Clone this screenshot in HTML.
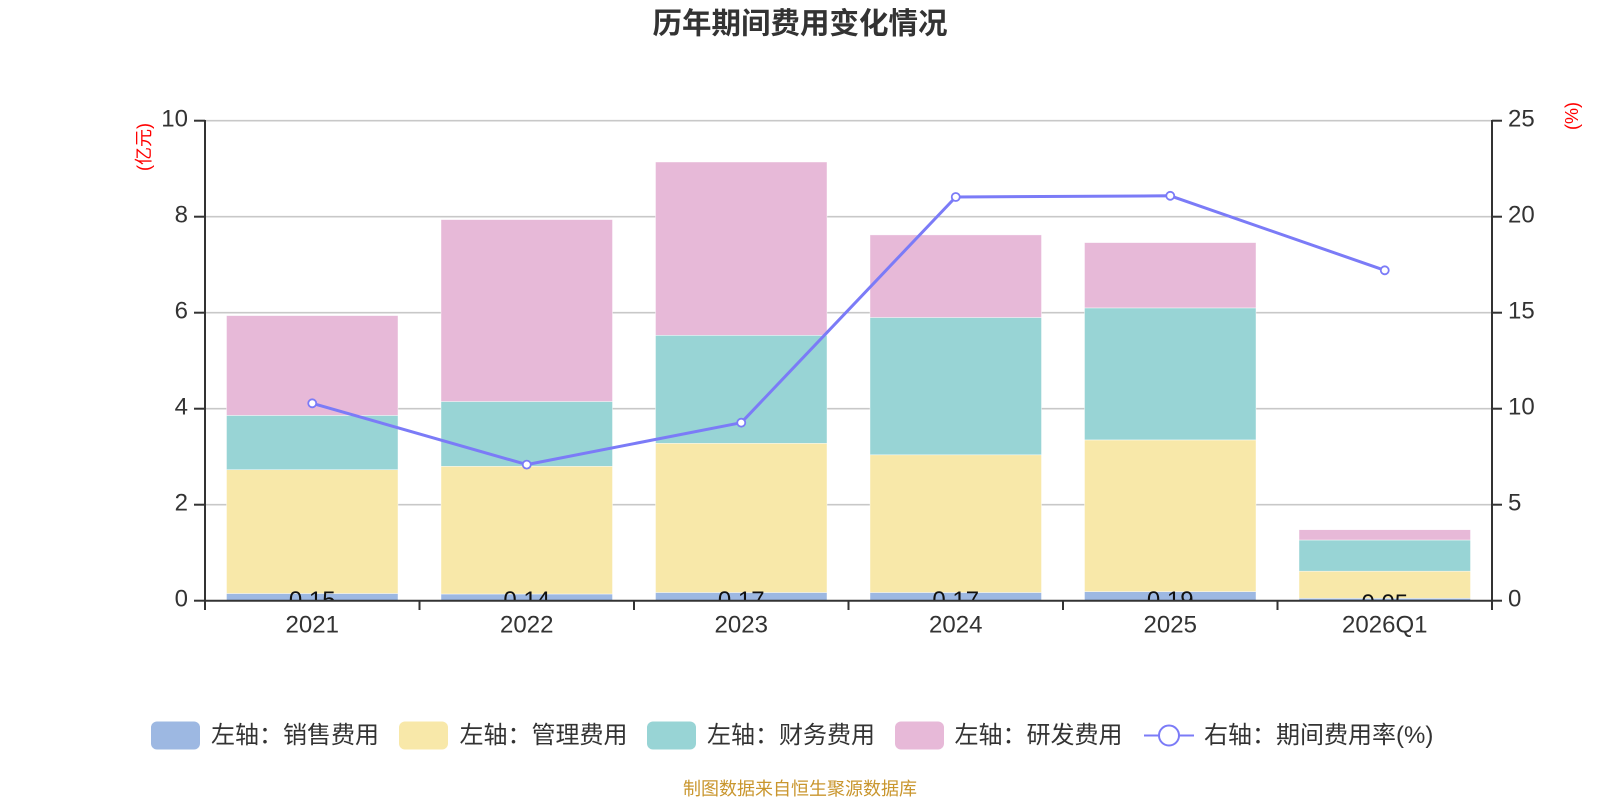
<!DOCTYPE html>
<html>
<head>
<meta charset="utf-8">
<style>
  html,body{margin:0;padding:0;background:#fff;}
  svg{display:block;}
  text{font-family:"Liberation Sans","Noto Sans CJK SC",sans-serif;}
</style>
</head>
<body>
<svg width="1600" height="800" viewBox="0 0 1600 800" xmlns="http://www.w3.org/2000/svg">
  <defs>
    <clipPath id="plot"><rect x="205" y="100" width="1287" height="500.7"/></clipPath>
  </defs>
  <rect width="1600" height="800" fill="#fff"/>

  <!-- Title -->
  <text x="800" y="24" font-size="29.5" font-weight="bold" fill="#333" text-anchor="middle" dominant-baseline="central" font-family="'Noto Sans CJK SC',sans-serif">历年期间费用变化情况</text>

  <!-- Grid lines -->
  <g stroke="#c8c8c8" stroke-width="1.6">
    <line x1="205" y1="120.7" x2="1492" y2="120.7"/>
    <line x1="205" y1="216.7" x2="1492" y2="216.7"/>
    <line x1="205" y1="312.7" x2="1492" y2="312.7"/>
    <line x1="205" y1="408.7" x2="1492" y2="408.7"/>
    <line x1="205" y1="504.7" x2="1492" y2="504.7"/>
  </g>

  <!-- Bars -->
  <g stroke="#ffffff" stroke-width="0.6" stroke-opacity="0.7">
    <!-- 2021 -->
    <rect x="226.5" y="593.5" width="171.5" height="7.2" fill="#9db8e2"/>
    <rect x="226.5" y="469.7" width="171.5" height="123.8" fill="#f8e8a9"/>
    <rect x="226.5" y="415.4" width="171.5" height="54.3" fill="#98d4d5"/>
    <rect x="226.5" y="315.6" width="171.5" height="99.8" fill="#e7b9d8"/>
    <!-- 2022 -->
    <rect x="441" y="594.0" width="171.5" height="6.7" fill="#9db8e2"/>
    <rect x="441" y="466.3" width="171.5" height="127.7" fill="#f8e8a9"/>
    <rect x="441" y="401.5" width="171.5" height="64.8" fill="#98d4d5"/>
    <rect x="441" y="219.6" width="171.5" height="181.9" fill="#e7b9d8"/>
    <!-- 2023 -->
    <rect x="655.5" y="592.5" width="171.5" height="8.2" fill="#9db8e2"/>
    <rect x="655.5" y="443.3" width="171.5" height="149.2" fill="#f8e8a9"/>
    <rect x="655.5" y="335.3" width="171.5" height="108" fill="#98d4d5"/>
    <rect x="655.5" y="162.0" width="171.5" height="173.3" fill="#e7b9d8"/>
    <!-- 2024 -->
    <rect x="870" y="592.5" width="171.5" height="8.2" fill="#9db8e2"/>
    <rect x="870" y="454.8" width="171.5" height="137.7" fill="#f8e8a9"/>
    <rect x="870" y="317.5" width="171.5" height="137.3" fill="#98d4d5"/>
    <rect x="870" y="234.9" width="171.5" height="82.6" fill="#e7b9d8"/>
    <!-- 2025 -->
    <rect x="1084.5" y="591.6" width="171.5" height="9.1" fill="#9db8e2"/>
    <rect x="1084.5" y="439.9" width="171.5" height="151.7" fill="#f8e8a9"/>
    <rect x="1084.5" y="307.9" width="171.5" height="132" fill="#98d4d5"/>
    <rect x="1084.5" y="242.6" width="171.5" height="65.3" fill="#e7b9d8"/>
    <!-- 2026Q1 -->
    <rect x="1299" y="598.3" width="171.5" height="2.4" fill="#9db8e2"/>
    <rect x="1299" y="571.2" width="171.5" height="27.1" fill="#f8e8a9"/>
    <rect x="1299" y="540.0" width="171.5" height="31.2" fill="#98d4d5"/>
    <rect x="1299" y="529.7" width="171.5" height="10.3" fill="#e7b9d8"/>
  </g>

  <!-- Value labels (clipped by plot area) -->
  <g clip-path="url(#plot)" font-size="24" fill="#111" text-anchor="middle">
    <text x="312.25" y="608">0.15</text>
    <text x="526.75" y="608">0.14</text>
    <text x="741.25" y="608">0.17</text>
    <text x="955.75" y="608">0.17</text>
    <text x="1170.25" y="608">0.19</text>
    <text x="1384.75" y="611">0.05</text>
  </g>

  <!-- Axes -->
  <g stroke="#333" stroke-width="2">
    <line x1="205" y1="120" x2="205" y2="601.5"/>
    <line x1="1492" y1="120" x2="1492" y2="601.5"/>
    <line x1="204" y1="600.7" x2="1493" y2="600.7"/>
    <!-- left ticks -->
    <line x1="194" y1="120.7" x2="205" y2="120.7"/>
    <line x1="194" y1="216.7" x2="205" y2="216.7"/>
    <line x1="194" y1="312.7" x2="205" y2="312.7"/>
    <line x1="194" y1="408.7" x2="205" y2="408.7"/>
    <line x1="194" y1="504.7" x2="205" y2="504.7"/>
    <line x1="194" y1="600.7" x2="205" y2="600.7"/>
    <!-- right ticks -->
    <line x1="1492" y1="120.7" x2="1502" y2="120.7"/>
    <line x1="1492" y1="216.7" x2="1502" y2="216.7"/>
    <line x1="1492" y1="312.7" x2="1502" y2="312.7"/>
    <line x1="1492" y1="408.7" x2="1502" y2="408.7"/>
    <line x1="1492" y1="504.7" x2="1502" y2="504.7"/>
    <line x1="1492" y1="600.7" x2="1502" y2="600.7"/>
    <!-- x ticks -->
    <line x1="205" y1="600.7" x2="205" y2="610"/>
    <line x1="419.5" y1="600.7" x2="419.5" y2="610"/>
    <line x1="634" y1="600.7" x2="634" y2="610"/>
    <line x1="848.5" y1="600.7" x2="848.5" y2="610"/>
    <line x1="1063" y1="600.7" x2="1063" y2="610"/>
    <line x1="1277.5" y1="600.7" x2="1277.5" y2="610"/>
    <line x1="1492" y1="600.7" x2="1492" y2="610"/>
  </g>

  <!-- Left axis labels -->
  <g font-size="24" fill="#333" text-anchor="end" dominant-baseline="central">
    <text x="188" y="119">10</text>
    <text x="188" y="215">8</text>
    <text x="188" y="311">6</text>
    <text x="188" y="407">4</text>
    <text x="188" y="503">2</text>
    <text x="188" y="599">0</text>
  </g>
  <!-- Right axis labels -->
  <g font-size="24" fill="#333" text-anchor="start" dominant-baseline="central">
    <text x="1508" y="119">25</text>
    <text x="1508" y="215">20</text>
    <text x="1508" y="311">15</text>
    <text x="1508" y="407">10</text>
    <text x="1508" y="503">5</text>
    <text x="1508" y="599">0</text>
  </g>

  <!-- Axis names -->
  <text transform="translate(144,147) rotate(-90)" font-size="18" fill="#ff0000" text-anchor="middle" dominant-baseline="central">(亿元)</text>
  <text transform="translate(1572,116) rotate(-90)" font-size="18" fill="#ff0000" text-anchor="middle" dominant-baseline="central">(%)</text>

  <!-- X labels -->
  <g font-size="24" fill="#333" text-anchor="middle" dominant-baseline="central">
    <text x="312.25" y="625">2021</text>
    <text x="526.75" y="625">2022</text>
    <text x="741.25" y="625">2023</text>
    <text x="955.75" y="625">2024</text>
    <text x="1170.25" y="625">2025</text>
    <text x="1384.75" y="625">2026Q1</text>
  </g>

  <!-- Line series -->
  <polyline points="312.25,403.3 526.75,464.6 741.25,422.7 955.75,197 1170.25,195.8 1384.75,270.3" fill="none" stroke="#7b7bf7" stroke-width="3" stroke-linejoin="round"/>
  <g fill="#fff" stroke="#7b7bf7" stroke-width="1.8">
    <circle cx="312.25" cy="403.3" r="4"/>
    <circle cx="526.75" cy="464.6" r="4"/>
    <circle cx="741.25" cy="422.7" r="4"/>
    <circle cx="955.75" cy="197" r="4"/>
    <circle cx="1170.25" cy="195.8" r="4"/>
    <circle cx="1384.75" cy="270.3" r="4"/>
  </g>

  <!-- Legend -->
  <g font-size="24" fill="#333" dominant-baseline="central">
    <rect x="151" y="721.5" width="49" height="28" rx="6" fill="#9db8e2"/>
    <text x="211" y="735.5">左轴：销售费用</text>
    <rect x="399" y="721.5" width="49" height="28" rx="6" fill="#f8e8a9"/>
    <text x="459.5" y="735.5">左轴：管理费用</text>
    <rect x="647" y="721.5" width="49" height="28" rx="6" fill="#98d4d5"/>
    <text x="707" y="735.5">左轴：财务费用</text>
    <rect x="895" y="721.5" width="49" height="28" rx="6" fill="#e7b9d8"/>
    <text x="954.5" y="735.5">左轴：研发费用</text>
    <line x1="1144" y1="735.5" x2="1194" y2="735.5" stroke="#7b7bf7" stroke-width="2"/>
    <circle cx="1169" cy="735.5" r="10" fill="#fff" stroke="#7b7bf7" stroke-width="2"/>
    <text x="1204" y="735.5">右轴：期间费用率(%)</text>
  </g>

  <!-- Footer -->
  <text x="800" y="789" font-size="18" fill="#c9962e" text-anchor="middle" dominant-baseline="central">制图数据来自恒生聚源数据库</text>
</svg>
</body>
</html>
